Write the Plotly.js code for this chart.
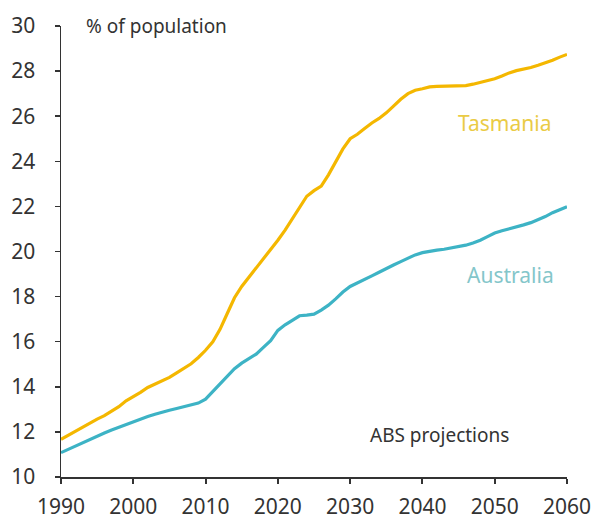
<!DOCTYPE html>
<html>
<head>
<meta charset="utf-8">
<script src="https://cdn.plot.ly/plotly-3.0.1.min.js"></script>
<style>html,body{margin:0;padding:0;background:#fff;}#chart{width:600px;height:523px;}</style>
</head>
<body>
<div id="chart"></div>
<script>
const years = [];
for (let y = 1990; y <= 2060; y++) years.push(y);

const tasmania = [
  11.67, 11.85, 12.05, 12.23, 12.40, 12.57, 12.72, 12.90, 13.12, 13.38,
  13.55, 13.75, 13.97, 14.12, 14.28, 14.42, 14.62, 14.82, 15.02, 15.30,
  15.62, 16.00, 16.55, 17.25, 17.95, 18.45, 18.85, 19.30, 19.65, 20.05,
  20.50, 20.95, 21.45, 21.95, 22.45, 22.70, 22.90, 23.40, 23.95, 24.55,
  25.00, 25.20, 25.45, 25.70, 25.90, 26.15, 26.45, 26.75, 27.00, 27.15,
  27.22, 27.30, 27.32, 27.33, 27.33, 27.33, 27.36, 27.42, 27.50, 27.58,
  27.66, 27.78, 27.92, 28.02, 28.08, 28.16, 28.26, 28.36, 28.48, 28.62,
  28.74
];

const australia = [
  11.08, 11.23, 11.38, 11.52, 11.68, 11.82, 11.95, 12.08, 12.20, 12.34,
  12.45, 12.56, 12.68, 12.78, 12.88, 12.96, 13.04, 13.12, 13.20, 13.28,
  13.45, 13.80, 14.10, 14.45, 14.80, 15.05, 15.25, 15.45, 15.75, 16.05,
  16.50, 16.75, 16.95, 17.15, 17.18, 17.22, 17.40, 17.62, 17.90, 18.20,
  18.45, 18.62, 18.75, 18.92, 19.08, 19.25, 19.40, 19.55, 19.70, 19.85,
  19.95, 20.02, 20.06, 20.10, 20.15, 20.22, 20.28, 20.38, 20.50, 20.66,
  20.82, 20.92, 21.00, 21.08, 21.18, 21.28, 21.40, 21.55, 21.72, 21.85,
  21.98
];

const xTicks = [1990, 2000, 2010, 2020, 2030, 2040, 2050, 2060];
const yTicks = [10, 12, 14, 16, 18, 20, 22, 24, 26, 28, 30];

const FONT = '"Noto Sans", "DejaVu Sans", sans-serif';
const GOLD = '#F4B700';
const TEAL = '#3DB3C5';

const data = [
  {x: years, y: tasmania, type: 'scatter', mode: 'lines', name: 'Tasmania',
   line: {color: GOLD, width: 3.2}},
  {x: years, y: australia, type: 'scatter', mode: 'lines', name: 'Australia',
   line: {color: TEAL, width: 3.2}}
];

const layout = {
  width: 600, height: 523,
  margin: {l: 61, r: 33, t: 26, b: 46},
  paper_bgcolor: '#ffffff', plot_bgcolor: '#ffffff',
  showlegend: false,
  font: {family: FONT, color: '#333333', size: 20},
  xaxis: {
    range: [1990, 2060], tickvals: xTicks, ticktext: xTicks.map(String),
    showgrid: false, zeroline: false, showline: true, linecolor: '#333333', linewidth: 2,
    ticks: 'outside', ticklen: 5, tickwidth: 2, tickcolor: '#333333',
    ticklabelstandoff: 5,
    tickfont: {family: FONT, size: 21, color: '#333333'}
  },
  yaxis: {
    range: [10, 30], tickvals: yTicks, ticktext: yTicks.map(String),
    showgrid: false, zeroline: false, showline: true, linecolor: '#333333', linewidth: 1.5,
    ticks: 'outside', ticklen: 5, tickwidth: 1.5, tickcolor: '#333333',
    ticklabelstandoff: 15,
    tickfont: {family: FONT, size: 21, color: '#333333'}
  },
  annotations: [
    {text: '% of population', xref: 'paper', yref: 'paper', x: 0.045, y: 1.0,
     xanchor: 'left', yanchor: 'middle', showarrow: false,
     font: {family: FONT, size: 19, color: '#333333'}},
    {text: 'ABS projections', xref: 'x', yref: 'y', x: 2042.3, y: 11.85,
     xanchor: 'center', yanchor: 'middle', showarrow: false,
     font: {family: FONT, size: 19, color: '#333333'}},
    {text: 'Tasmania', xref: 'x', yref: 'y', x: 2051.3, y: 25.7,
     xanchor: 'center', yanchor: 'middle', showarrow: false,
     font: {family: FONT, size: 21, color: '#EACB45'}},
    {text: 'Australia', xref: 'x', yref: 'y', x: 2052.2, y: 18.96,
     xanchor: 'center', yanchor: 'middle', showarrow: false,
     font: {family: FONT, size: 21, color: '#84C6CA'}}
  ]
};

Plotly.newPlot('chart', data, layout, {displayModeBar: false, staticPlot: true});
</script>
</body>
</html>
